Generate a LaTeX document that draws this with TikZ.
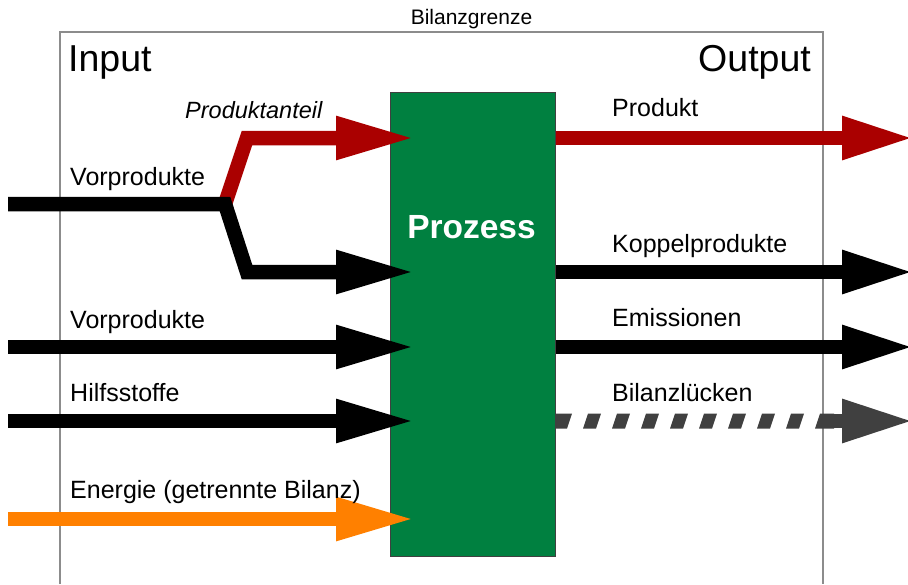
\documentclass[tikz,border=0pt]{standalone}
\usepackage{fontspec}
\setmainfont{Liberation Sans}
\usetikzlibrary{arrows.meta}
\definecolor{prodred}{HTML}{AA0000}
\definecolor{energyorange}{HTML}{FF8000}
\definecolor{procgreen}{HTML}{008040}
\definecolor{gapgray}{HTML}{404040}
\definecolor{framegray}{HTML}{8C8C8C}

\begin{document}
\begin{tikzpicture}[x=1pt,y=-1pt,
  inflow/.style={line width=14.5pt, line join=miter, -{Triangle[length=79pt,width=40pt]}},
  outflow/.style={line width=14.5pt, -{Triangle[length=72pt,width=40pt]}},
  lbl/.style={anchor=base west, inner sep=0pt, font=\fontsize{25}{30}\selectfont},
  biglbl/.style={inner sep=0pt, font=\fontsize{37.5}{44}\selectfont},
  frame/.style={draw=framegray, line width=2pt},
  procbox/.style={draw=black!75, line width=1pt, fill=procgreen, rectangle,
    minimum width=165pt, minimum height=464pt, inner sep=0pt}]

\useasboundingbox (0,0) rectangle (908,584);

% balance boundary (open towards the bottom)
\draw[frame] (60,584) -- (60,32) -- (823,32) -- (823,584);
\node[inner sep=0pt, anchor=base, font=\fontsize{21}{25}\selectfont] (grenze) at (471.5,24) {Bilanzgrenze};
\node[biglbl, anchor=base west] (input) at (68,71) {Input};
\node[biglbl, anchor=base east] (output) at (811,71) {Output};

% process block
\node[procbox] (proc) at (472.5,324) {};
\node[inner sep=0pt, anchor=base, text=white, font=\fontsize{33.5}{40}\selectfont\bfseries] (prozlbl) at (471.5,238) {Prozess};

% coordinates of the flows
\coordinate (vp1) at (8,204);
\coordinate (split) at (225,204);
\coordinate (redbend) at (247,138);
\coordinate (blkbend) at (247,272);
\coordinate (redin) at (415,138);
\coordinate (blkin) at (415,272);
\coordinate (vp2) at (8,347);
\coordinate (vp2in) at (415,347);
\coordinate (hs) at (8,421);
\coordinate (hsin) at (415,421);
\coordinate (en) at (8,519);
\coordinate (enin) at (415,519);

\coordinate (prodout) at (914,138);
\coordinate (koppout) at (914,272);
\coordinate (emout) at (914,347);
\coordinate (gapstart) at (833,421);
\coordinate (gapout) at (914,421);

% inputs
\draw[inflow, prodred] (split) -- (redbend) -- (redin);
\draw[inflow, black] (vp1) -- (split) -- (blkbend) -- (blkin);
\draw[inflow, black] (vp2) -- (vp2in);
\draw[inflow, black] (hs) -- (hsin);
\draw[inflow, energyorange] (en) -- (enin);

% outputs
\draw[outflow, prodred] (proc.east |- prodout) -- (prodout);
\draw[outflow, black] (proc.east |- koppout) -- (koppout);
\draw[outflow, black] (proc.east |- emout) -- (emout);

% balance gaps: slanted dashes, then the arrow
\fill[gapgray] (proc.east |- 0,428.5) -- (567,428.5) -- (572,413.5) -- (proc.east |- 0,413.5) -- cycle;
\foreach \k in {1,...,8}
  \fill[gapgray] ({554+29*\k},428.5) -- ++(13,0) -- ++(5,-15) -- ++(-13,0) -- cycle;
\fill[gapgray] (815,428.5) -- (834,428.5) -- (834,413.5) -- (820,413.5) -- cycle;
\draw[outflow, gapgray] (gapstart) -- (gapout);

% labels
\node[lbl, font=\fontsize{23.5}{28}\selectfont\itshape] (anteil) at (185,118) {Produktanteil};
\node[lbl] (vplbl1) at (70,185) {Vorprodukte};
\node[lbl] (vplbl2) at (70,328) {Vorprodukte};
\node[lbl] (hslbl) at (70,401) {Hilfsstoffe};
\node[lbl] (enlbl) at (70,498) {Energie (getrennte Bilanz)};
\node[lbl] (prodlbl) at (612,116) {Produkt};
\node[lbl] (kopplbl) at (612,252) {Koppelprodukte};
\node[lbl] (emlbl) at (612,326) {Emissionen};
\node[lbl] (gaplbl) at (612,401) {Bilanzlücken};
\end{tikzpicture}
\end{document}
